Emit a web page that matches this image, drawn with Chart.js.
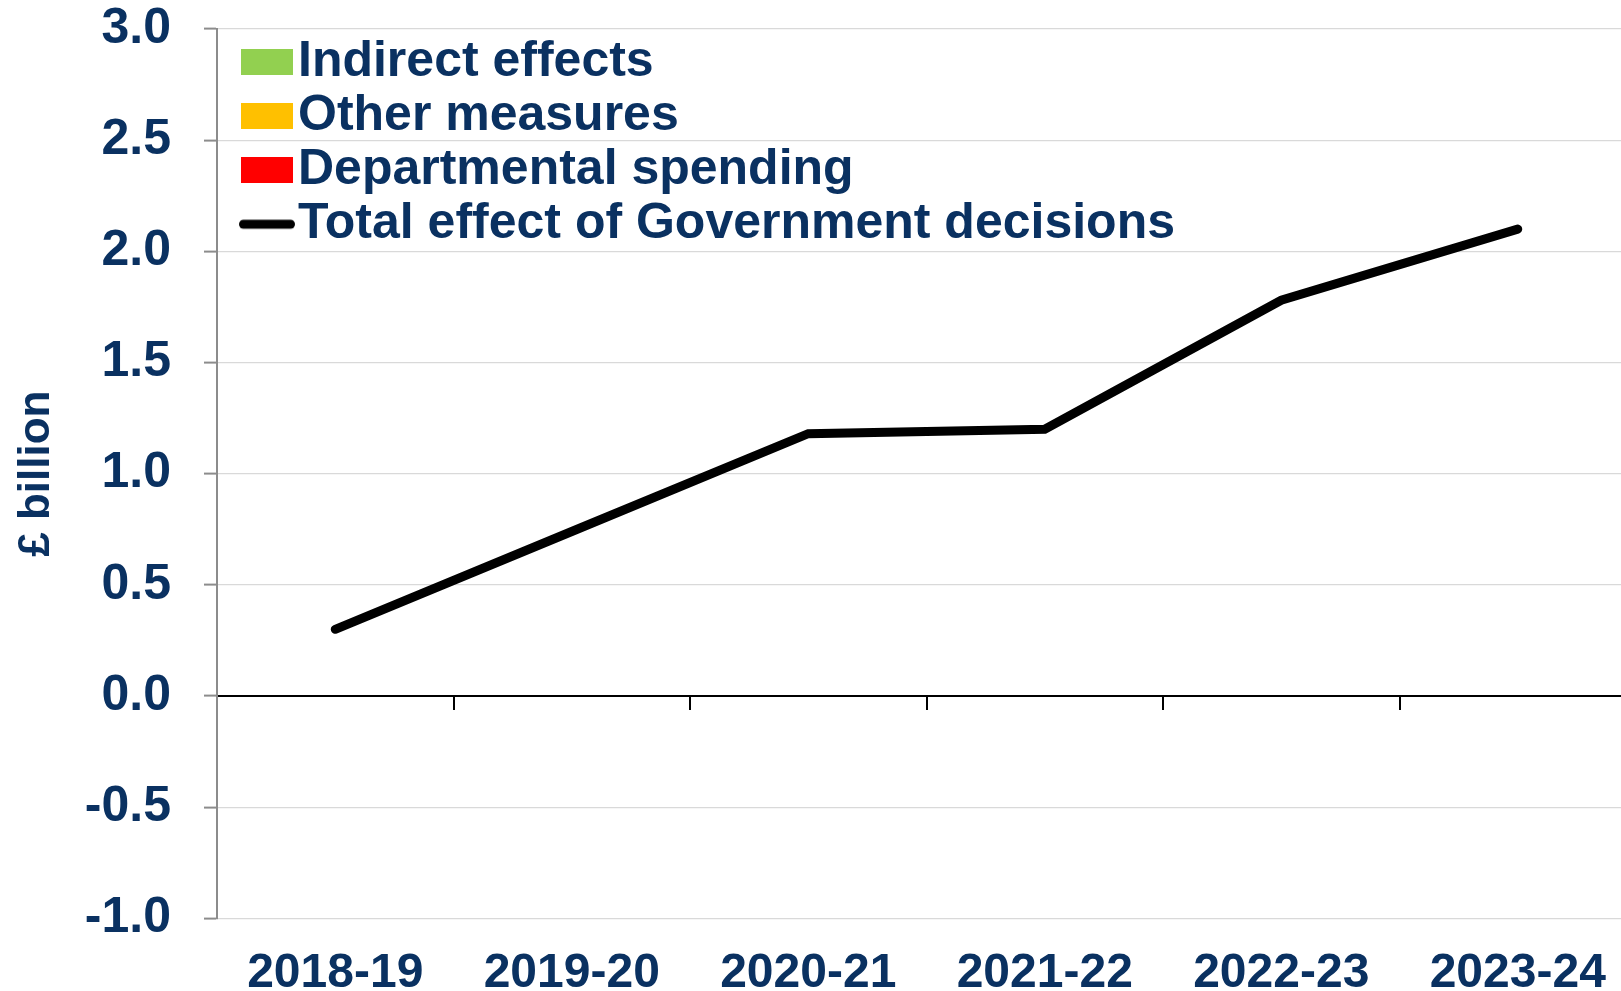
<!DOCTYPE html>
<html>
<head>
<meta charset="utf-8">
<script src="https://cdn.jsdelivr.net/npm/chart.js@4"></script>
<style>
  html, body { margin: 0; padding: 0; background: #fff; overflow: hidden; }
  #wrap { width: 1640px; height: 1030px; position: relative; }
</style>
</head>
<body>
<div id="wrap"><canvas id="decisionsChart"></canvas></div>
<script>
    // 데이터
    const years = ['2018-19', '2019-20', '2020-21', '2021-22', '2022-23', '2023-24'];
    const indirectEffects = [null, null, null, null, null, null];
    const otherMeasures = [null, null, null, null, null, null];
    const departmentalSpending = [null, null, null, null, null, null];
    const totalEffect = [0.30, 0.74, 1.18, 1.20, 1.78, 2.10];

    const navy = '#0a3161';
    const fontFamily = '"Liberation Sans", Arial, sans-serif';

    let decisionsChart = null;

    // 범례 마커 (사각형 / 선)
    function makeMarker(kind, color) {
        const c = document.createElement('canvas');
        c.width = kind === 'line' ? 96 : 92;
        c.height = 26;
        const g = c.getContext('2d');
        if (kind === 'line') {
            g.strokeStyle = color;
            g.lineWidth = 9;
            g.lineCap = 'round';
            g.beginPath();
            g.moveTo(44.5, 13);
            g.lineTo(91.5, 13);
            g.stroke();
        } else {
            g.fillStyle = color;
            g.fillRect(40, 0, 52, 26);
        }
        return c;
    }

    function createDecisionsChart() {
        var ctx = document.getElementById('decisionsChart').getContext('2d');

        if (decisionsChart) {
            decisionsChart.destroy();
        }

        decisionsChart = new Chart(ctx, {
            type: 'bar',
            data: {
                labels: years,
                datasets: [
                    { label: 'Indirect effects', data: indirectEffects, backgroundColor: '#92d050', stack: 's' },
                    { label: 'Other measures', data: otherMeasures, backgroundColor: '#ffc000', stack: 's' },
                    { label: 'Departmental spending', data: departmentalSpending, backgroundColor: '#ff0000', stack: 's' },
                    {
                        type: 'line',
                        label: 'Total effect of Government decisions',
                        data: totalEffect,
                        borderColor: '#000',
                        backgroundColor: '#000',
                        borderWidth: 9,
                        borderCapStyle: 'round',
                        borderJoinStyle: 'miter',
                        pointRadius: 0,
                        tension: 0
                    }
                ]
            },
            options: {
                responsive: true,
                maintainAspectRatio: false,
                animation: false,
                layout: { padding: { left: 0, right: 4, top: 29, bottom: 0 } },
                plugins: {
                    tooltip: { enabled: false },
                    legend: {
                        position: 'chartArea',
                        align: 'start',
                        title: {
                            display: true,
                            text: '',
                            font: { size: 1 },
                            padding: { top: 32, bottom: 0 }
                        },
                        labels: {
                            color: navy,
                            font: { family: fontFamily, size: 50, weight: 'bold' },
                            usePointStyle: true,
                            pointStyleWidth: 52,
                            boxHeight: 26,
                            padding: 4,
                            generateLabels: function (chart) {
                                const items = Chart.defaults.plugins.legend.labels.generateLabels(chart);
                                items.forEach(function (it) {
                                    const ds = chart.data.datasets[it.datasetIndex];
                                    if (ds.type === 'line') {
                                        it.pointStyle = makeMarker('line', ds.borderColor);
                                    } else {
                                        it.pointStyle = makeMarker('rect', ds.backgroundColor);
                                    }
                                    it.lineWidth = 0;
                                });
                                return items;
                            }
                        }
                    }
                },
                scales: {
                    x: {
                        stacked: true,
                        grid: { display: false, drawTicks: false },
                        border: { display: false },
                        ticks: {
                            color: navy,
                            font: { family: fontFamily, size: 48, weight: 'bold' },
                            padding: 27,
                            maxRotation: 0,
                            autoSkip: false
                        }
                    },
                    // 0 위치의 축선과 눈금
                    x2: {
                        type: 'category',
                        position: { y: 0 },
                        grid: {
                            display: true,
                            offset: true,
                            drawOnChartArea: false,
                            drawTicks: true,
                            tickLength: 13,
                            color: '#000',
                            lineWidth: 2
                        },
                        border: { display: true, color: '#000', width: 2 },
                        ticks: { display: false }
                    },
                    y: {
                        stacked: true,
                        min: -1,
                        max: 3,
                        afterFit: function (scale) {
                            scale.width = 217;
                            scale.paddingTop = 0;
                            scale.paddingBottom = 0;
                        },
                        ticks: {
                            stepSize: 0.5,
                            color: navy,
                            padding: 33,
                            font: { family: fontFamily, size: 50, weight: 'bold' },
                            callback: function (v) { return Number(v).toFixed(1); }
                        },
                        grid: {
                            color: function (c) { return c.tick && c.tick.value === 0 ? '#000' : '#d9d9d9'; },
                            lineWidth: 1.2,
                            tickLength: 13,
                            tickColor: '#8c8c8c',
                            tickWidth: 2
                        },
                        border: { color: '#8c8c8c', width: 2 },
                        title: {
                            display: true,
                            text: '£ billion',
                            color: navy,
                            font: { family: fontFamily, size: 44, weight: 'bold' },
                            padding: { top: 10, bottom: 0 }
                        }
                    }
                }
            }
        });
    }

    createDecisionsChart();
</script>
</body>
</html>
